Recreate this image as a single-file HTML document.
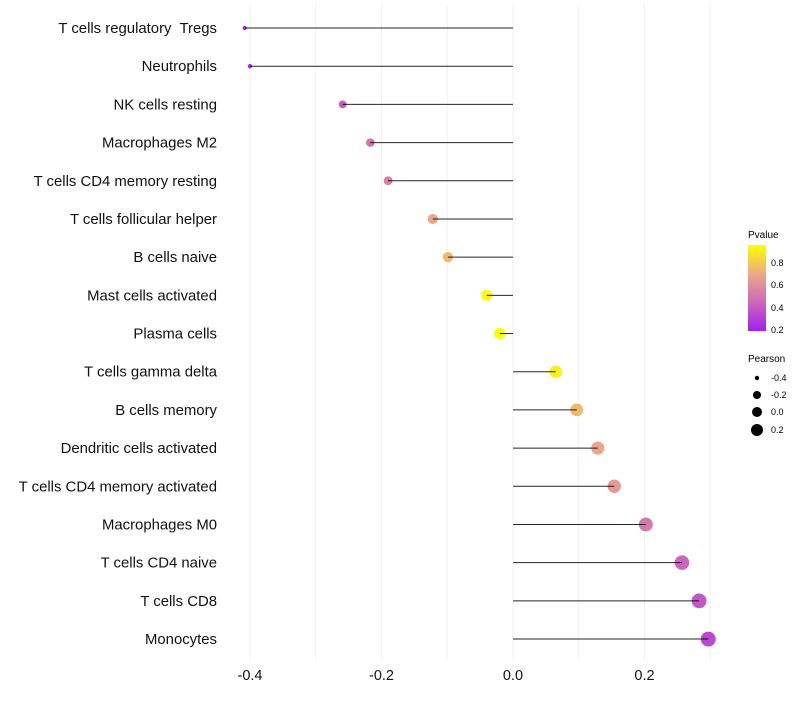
<!DOCTYPE html>
<html><head><meta charset="utf-8"><style>
body{margin:0;background:#fff;font-family:"Liberation Sans",sans-serif;}
text{white-space:pre;}
</style></head><body>
<svg id="chart" width="800" height="700" xmlns="http://www.w3.org/2000/svg" font-family="Liberation Sans, sans-serif">
<defs><linearGradient id="pg" x1="0" y1="1" x2="0" y2="0">
<stop offset="0" stop-color="#a020f0"/><stop offset="0.35" stop-color="#cf6ab8"/><stop offset="0.65" stop-color="#eba68a"/><stop offset="1" stop-color="#ffff00"/></linearGradient></defs>
<g id="grid"></g>
<g id="marks"></g>
<g id="axes"></g>
<g font-size="9">
<text x="748" y="238" font-size="10">Pvalue</text>
<rect x="748" y="245" width="18" height="86" fill="url(#pg)"/>
<text x="771" y="266">0.8</text>
<text x="771" y="288">0.6</text>
<text x="771" y="311">0.4</text>
<text x="771" y="333">0.2</text>
</g>
<g font-size="9">
<text x="748" y="362" font-size="10">Pearson</text>
<circle cx="757" cy="378" r="2.2"/>
<circle cx="757" cy="395" r="4"/>
<circle cx="757" cy="412" r="5"/>
<circle cx="757" cy="430" r="6"/>
<text x="771" y="381">-0.4</text><text x="771" y="398">-0.2</text><text x="771" y="415">0.0</text><text x="771" y="433">0.2</text>
</g>
</svg>
<script>
const categories=["T cells regulatory  Tregs","Neutrophils","NK cells resting","Macrophages M2","T cells CD4 memory resting","T cells follicular helper","B cells naive","Mast cells activated","Plasma cells","T cells gamma delta","B cells memory","Dendritic cells activated","T cells CD4 memory activated","Macrophages M0","T cells CD4 naive","T cells CD8","Monocytes"];
const pearson=[-0.408,-0.400,-0.259,-0.217,-0.190,-0.122,-0.099,-0.040,-0.020,0.065,0.097,0.129,0.154,0.202,0.257,0.283,0.297];
const pvalue=[0.22,0.24,0.42,0.5,0.55,0.7,0.76,0.95,0.97,0.92,0.76,0.7,0.65,0.53,0.45,0.4,0.35];
const xTicks=[-0.4,-0.2,0.0,0.2];
const NS="http://www.w3.org/2000/svg";
const x=v=>513+v*657.5;
const y=i=>28+i*38.19;
const rSize=v=>Math.sqrt(Math.max(3,34+73.2*v));
function lerp(a,b,t){return a.map((c,k)=>Math.round(c+(b[k]-c)*t));}
const stops=[[0,[160,32,240]],[0.35,[207,106,184]],[0.65,[235,166,138]],[1,[255,255,0]]];
function col(p){let t=Math.max(0,Math.min(1,(p-0.2)/0.77));for(let k=1;k<stops.length;k++){if(t<=stops[k][0]){const a=stops[k-1],b=stops[k];const c=lerp(a[1],b[1],(t-a[0])/(b[0]-a[0]));return `rgb(${c})`;}}return 'rgb(255,255,0)';}
function mk(tag,attrs,parent){const e=document.createElementNS(NS,tag);for(const k in attrs)e.setAttribute(k,attrs[k]);parent.appendChild(e);return e;}
const grid=document.getElementById('grid'),marks=document.getElementById('marks'),axes=document.getElementById('axes');
for(let v=-0.4;v<=0.31;v+=0.1){const g=mk('line',{x1:x(v),x2:x(v),y1:5,y2:660,stroke:'#f0f0f0','stroke-width':1},grid);

}
xTicks.forEach(v=>{const t=mk('text',{x:x(v),y:680,'font-size':14.5,'text-anchor':'middle',fill:'#111'},axes);t.textContent=v.toFixed(1);

});
categories.forEach((c,i)=>{
const t=mk('text',{x:217,y:y(i)+5,'font-size':14.9,'text-anchor':'end',fill:'#111'},axes);t.textContent=c;


const p=mk('circle',{cx:x(pearson[i]),cy:y(i),r:rSize(pearson[i]),fill:col(pvalue[i])},marks);


const l=mk('line',{x1:x(0),x2:x(pearson[i]),y1:y(i),y2:y(i),stroke:'#000','stroke-width':1,'stroke-opacity':0.85},marks);


});
</script>
</body></html>
